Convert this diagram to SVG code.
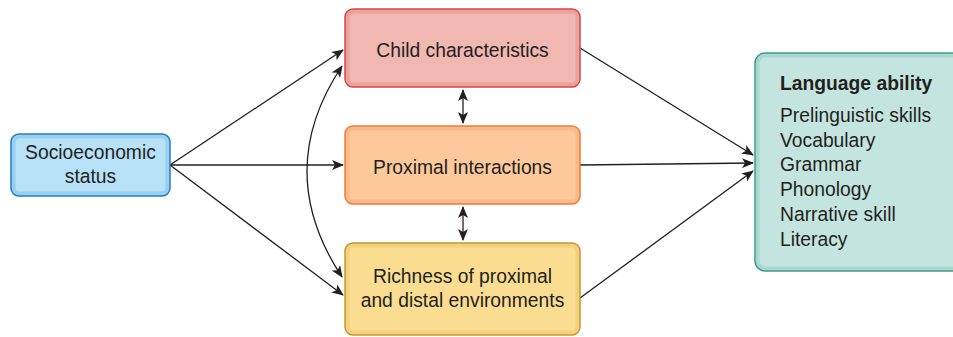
<svg xmlns="http://www.w3.org/2000/svg" width="953" height="337" viewBox="0 0 953 337">
<style>
text{font-family:"Liberation Sans",Arial,sans-serif;font-size:19.3px;fill:#231f20}
.c{text-anchor:middle}
.b{font-weight:bold}
.box{stroke-width:1.5}
.glow{fill:none;stroke-width:4;stroke-opacity:0.18}
.con{fill:none;stroke:#231f20;stroke-width:1.3}
</style>
<defs>
<marker id="ah" viewBox="0 0 12 10" refX="11" refY="5" markerWidth="12" markerHeight="10" markerUnits="userSpaceOnUse" orient="auto-start-reverse">
<path d="M0,0 L12,5 L0,10 L3,5 Z" fill="#231f20"/>
</marker>
</defs>
<g id="connectors">
<line class="con" x1="170" y1="165" x2="343" y2="50" marker-end="url(#ah)"/>
<line class="con" x1="170" y1="165" x2="343" y2="165" marker-end="url(#ah)"/>
<line class="con" x1="170" y1="165" x2="343" y2="295" marker-end="url(#ah)"/>
<path class="con" d="M342,66 Q272,171 342,277" marker-start="url(#ah)" marker-end="url(#ah)"/>
<line class="con" x1="463" y1="90" x2="463" y2="123" marker-start="url(#ah)" marker-end="url(#ah)"/>
<line class="con" x1="463" y1="207" x2="463" y2="240" marker-start="url(#ah)" marker-end="url(#ah)"/>
<line class="con" x1="580" y1="48" x2="753" y2="155" marker-end="url(#ah)"/>
<line class="con" x1="580" y1="165" x2="753" y2="163" marker-end="url(#ah)"/>
<line class="con" x1="580" y1="298" x2="753" y2="171" marker-end="url(#ah)"/>
</g>
<g id="socioeconomic">
<rect class="box" x="11" y="134" width="159" height="62" rx="8" fill="#b6e1f7" stroke="#1b7fc3"/>
<rect class="glow" x="13.5" y="136.5" width="154" height="57" rx="6" stroke="#1b7fc3"/>
<text class="c" x="90.5" y="159">Socioeconomic</text>
<text class="c" x="90.5" y="183">status</text>
</g>
<g id="child">
<rect class="box" x="345" y="9" width="235" height="78" rx="8" fill="#f0b8b1" stroke="#d9434a"/>
<rect class="glow" x="347.5" y="11.5" width="230" height="73" rx="6" stroke="#d9434a"/>
<text class="c" x="462.5" y="57">Child characteristics</text>
</g>
<g id="proximal">
<rect class="box" x="345" y="126" width="235" height="78" rx="8" fill="#fdc99b" stroke="#f07a38"/>
<rect class="glow" x="347.5" y="128.5" width="230" height="73" rx="6" stroke="#f07a38"/>
<text class="c" x="462.5" y="174">Proximal interactions</text>
</g>
<g id="richness">
<rect class="box" x="345" y="243" width="235" height="92" rx="8" fill="#fbdd91" stroke="#c8952f"/>
<rect class="glow" x="347.5" y="245.5" width="230" height="87" rx="6" stroke="#c8952f"/>
<text class="c" x="462.5" y="283">Richness of proximal</text>
<text class="c" x="462.5" y="307">and distal environments</text>
</g>
<g id="language">
<rect class="box" x="755" y="53" width="210" height="218" rx="10" fill="#c4e5df" stroke="#3a9a90"/>
<rect class="glow" x="757.5" y="55.5" width="205" height="213" rx="8" stroke="#3a9a90"/>
<text class="b" x="780" y="90">Language ability</text>
<text x="780" y="122">Prelinguistic skills</text>
<text x="780" y="147">Vocabulary</text>
<text x="780" y="171">Grammar</text>
<text x="780" y="196">Phonology</text>
<text x="780" y="221">Narrative skill</text>
<text x="780" y="246">Literacy</text>
</g>
</svg>
